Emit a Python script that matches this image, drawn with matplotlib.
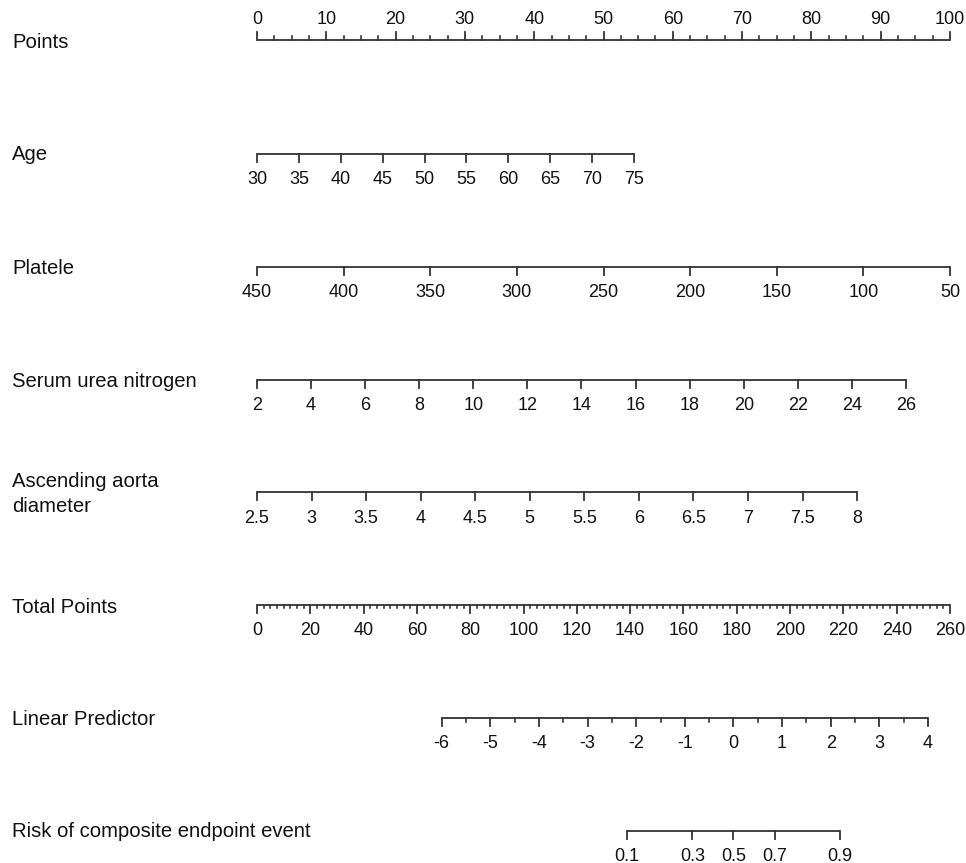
import numpy as np
import matplotlib
matplotlib.use("Agg")
import matplotlib.pyplot as plt

plt.rcParams["font.family"] = ["Liberation Sans", "DejaVu Sans"]

# 各变量刻度值及其对应的分值范围（0-100 分）
age_ticks = [30, 35, 40, 45, 50, 55, 60, 65, 70, 75]
age_points = (0.0, 54.4)          # 30 岁 -> 0 分, 75 岁 -> 54.4 分

plt_ticks = [450, 400, 350, 300, 250, 200, 150, 100, 50]
plt_points = (0.0, 100.0)         # 450 -> 0 分, 50 -> 100 分

bun_ticks = [2, 4, 6, 8, 10, 12, 14, 16, 18, 20, 22, 24, 26]
bun_points = (0.0, 93.65)

aorta_ticks = [2.5, 3, 3.5, 4, 4.5, 5, 5.5, 6, 6.5, 7, 7.5, 8]
aorta_labels = ["2.5", "3", "3.5", "4", "4.5", "5", "5.5", "6", "6.5", "7", "7.5", "8"]
aorta_points = (0.0, 86.6)

total_ticks = list(range(0, 261, 20))
lp_ticks = [-6, -5, -4, -3, -2, -1, 0, 1, 2, 3, 4]
risk_ticks = [0.1, 0.3, 0.5, 0.7, 0.9]

# 线性预测值与总分的关系: LP = lp0 + TP / tp_per_lp
lp0 = -9.80
tp_per_lp = 18.24
total_max = 260

W, H = 966, 863
X0, X100 = 257, 950               # 0 分与 100 分所在像素位置
scale = (X100 - X0) / 100.0

fig = plt.figure(figsize=(W / 100, H / 100), dpi=100)
ax = fig.add_axes([0, 0, 1, 1])
ax.set_xlim(-X0 / scale, (W - X0) / scale)
ax.set_ylim(H, 0)
ax.axis("off")

LC = "#333333"
LW = 1.3
TICK_FS = 13
VAR_FS = 14.6


def px(p):
    return -X0 / scale + p / scale


def draw_axis(y, pos, labels, minor=None, up=False, major_len=8, minor_len=4, lab_off=26):
    pos = np.asarray(pos, dtype=float)
    ax.plot([pos.min(), pos.max()], [y, y], color=LC, lw=LW, solid_capstyle="butt")
    d = -1 if up else 1
    for p in pos:
        ax.plot([p, p], [y, y + d * major_len], color=LC, lw=LW)
    if minor is not None:
        for p in minor:
            ax.plot([p, p], [y, y + d * minor_len], color=LC, lw=LW * 0.9)
    for p, s in zip(pos, labels):
        ax.text(p, y + d * lab_off, s, ha="center", va="center", fontsize=TICK_FS, color="#111111")


def lin_map(ticks, pts):
    t = np.asarray(ticks, dtype=float)
    return pts[0] + (t - t[0]) / (t[-1] - t[0]) * (pts[1] - pts[0])


def tp_to_pts(tp):
    return np.asarray(tp, dtype=float) * 100.0 / total_max


rows = [40, 154, 267, 380, 492, 605, 718, 831]
names = ["Points", "Age", "Platele", "Serum urea nitrogen", "Ascending aorta\ndiameter",
         "Total Points", "Linear Predictor", "Risk of composite endpoint event"]
name_dy = [3, 1, 1, 1, 2, 2, 1, 0]

for y, n, dy in zip(rows, names, name_dy):
    ax.text(px(12), y + dy, n, ha="left", va="center", fontsize=VAR_FS,
            color="#111111", linespacing=1.45)

# Points
pt_major = np.arange(0, 101, 10)
pt_minor = np.arange(0, 100.1, 2.5)
pt_minor = pt_minor[np.mod(pt_minor, 10) != 0]
draw_axis(rows[0], pt_major, [str(v) for v in pt_major], minor=pt_minor, up=True,
          minor_len=3.5, lab_off=21)

draw_axis(rows[1], lin_map(age_ticks, age_points), [str(v) for v in age_ticks])
draw_axis(rows[2], lin_map(plt_ticks, plt_points), [str(v) for v in plt_ticks], lab_off=25)
draw_axis(rows[3], lin_map(bun_ticks, bun_points), [str(v) for v in bun_ticks], lab_off=25)
draw_axis(rows[4], lin_map(aorta_ticks, aorta_points), aorta_labels)

# Total Points
tp_minor = np.arange(0, total_max + 0.1, 2.5)
tp_minor = tp_minor[np.mod(tp_minor, 20) != 0]
draw_axis(rows[5], tp_to_pts(total_ticks), [str(v) for v in total_ticks],
          minor=tp_to_pts(tp_minor), minor_len=3, lab_off=25)

# Linear Predictor
lp_tp = (np.asarray(lp_ticks, dtype=float) - lp0) * tp_per_lp
lp_minor = (np.arange(-5.5, 4, 1.0) - lp0) * tp_per_lp
draw_axis(rows[6], tp_to_pts(lp_tp), [str(v) for v in lp_ticks],
          minor=tp_to_pts(lp_minor), minor_len=4, lab_off=25)

# Risk
r = np.asarray(risk_ticks)
risk_lp = np.log(r / (1 - r))
draw_axis(rows[7], tp_to_pts((risk_lp - lp0) * tp_per_lp), [str(v) for v in risk_ticks],
          lab_off=25)

fig.savefig("out.png", dpi=100)
